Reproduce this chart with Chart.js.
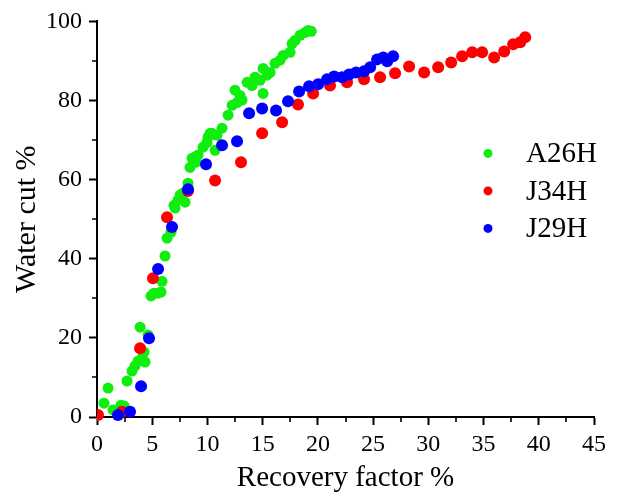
<!DOCTYPE html>
<html>
<head>
<meta charset="utf-8">
<script src="https://cdn.jsdelivr.net/npm/chart.js@4/dist/chart.umd.min.js"></script>
<style>
  html, body { margin: 0; padding: 0; background: #fff; }
  #wrap { width: 621px; height: 496px; }
</style>
</head>
<body>
<div id="wrap"><canvas id="c" width="621" height="496"></canvas></div>
<script>
// Recovery factor (%) vs water cut (%) for three wells
const seriesNames = ['A26H', 'J34H', 'J29H'];
const seriesColors = ['#10ee10', '#ff0000', '#0000ff'];

const a26h = [
  [0.63,3.5],[1.0,7.3],[1.45,1.8],[2.17,3.0],[2.45,2.8],[2.72,9.1],[3.17,11.6],[3.44,12.9],
  [3.71,14.1],[4.08,14.9],[3.9,22.7],[4.35,13.9],[4.26,16.4],[4.62,20.7],[4.89,30.6],
  [5.16,31.3],[5.53,31.3],[5.8,31.6],[5.89,34.3],[6.16,40.7],[6.34,45.2],[6.7,46.7],
  [6.97,53.5],[7.07,52.8],[7.34,54.8],[7.52,56.1],[7.79,56.6],[7.97,54.3],[8.24,59.1],
  [8.42,63.1],[8.6,65.4],[8.88,65.7],[8.97,64.4],[9.15,66.2],[9.6,68.2],[9.96,69.4],
  [10.05,70.7],[10.24,71.7],[10.42,71.7],[10.69,67.4],[10.87,71.2],[11.32,73.0],
  [11.87,76.3],[12.23,78.8],[12.5,82.6],[12.68,79.5],[12.95,81.3],[13.13,80.1],
  [13.59,84.6],[14.04,83.8],[14.31,85.9],[14.76,85.1],[15.04,81.8],[15.04,88.1],[15.4,86.4],
  [15.67,87.1],[16.12,89.4],[16.58,90.2],[16.85,91.4],[17.48,92.2],[17.66,94.4],
  [17.93,95.2],[18.39,96.5],[18.84,97.2],[19.11,97.7],[19.4,97.5]
];

const j34h = [
  [0.09,0.5],[2.26,1.3],[3.9,17.4],[5.07,35.1],[6.34,50.5],[8.24,57.1],[10.69,59.8],
  [13.04,64.4],[14.95,71.7],[16.76,74.5],[18.2,79.0],[19.57,81.8],[21.1,83.8],[22.64,84.6],
  [24.18,85.4],[25.63,85.9],[26.99,86.9],[28.26,88.6],[29.62,87.1],[30.89,88.4],
  [32.07,89.6],[33.06,91.2],[33.97,92.2],[34.87,92.2],[35.96,90.9],[36.87,92.4],
  [37.68,94.2],[38.32,94.7],[38.77,96.0]
];

const j29h = [
  [1.9,0.5],[2.99,1.3],[3.99,7.8],[4.71,19.9],[5.53,37.4],[6.79,48.0],[8.24,57.6],
  [9.87,63.9],[11.32,68.7],[12.68,69.7],[13.77,76.8],[14.95,78.0],[16.21,77.5],[17.3,79.8],
  [18.3,82.3],[19.2,83.6],[20.02,84.1],[20.83,85.4],[21.47,86.1],[22.19,85.9],[22.83,86.6],
  [23.46,87.1],[24.18,87.4],[24.73,88.4],[25.36,90.4],[25.91,90.9],[26.27,89.9],[26.81,91.2]
];

const xTitle = 'Recovery factor %';
const yTitle = 'Water cut %';
const xRange = [0, 45], xMajor = 5;
const yRange = [0, 100], yMajor = 20;

const FONT = "'Liberation Serif', 'Times New Roman', serif";
const toPoints = arr => arr.map(([x, y]) => ({ x, y }));

// minor tick marks halfway between the labelled ones
const minorTicks = {
  id: 'minorTicks',
  afterDraw(chart) {
    const { ctx, scales: { x, y } } = chart;
    ctx.save();
    ctx.strokeStyle = '#000';
    ctx.lineWidth = 1.6;
    ctx.beginPath();
    for (let v = xRange[0] + xMajor / 2; v < xRange[1]; v += xMajor) {
      const px = Math.round(x.getPixelForValue(v));
      ctx.moveTo(px, x.top);
      ctx.lineTo(px, x.top + 5);
    }
    for (let v = yRange[0] + yMajor / 2; v < yRange[1]; v += yMajor) {
      const py = Math.round(y.getPixelForValue(v));
      ctx.moveTo(y.right, py);
      ctx.lineTo(y.right - 5, py);
    }
    ctx.stroke();
    ctx.restore();
  }
};

// legend drawn inside the plot, right side
const insideLegend = {
  id: 'insideLegend',
  afterDraw(chart) {
    const { ctx, chartArea } = chart;
    ctx.save();
    ctx.font = '29px ' + FONT;
    ctx.textBaseline = 'middle';
    ctx.textAlign = 'left';
    chart.data.datasets.forEach((ds, i) => {
      const cy = chartArea.top + 132 + i * 37.5;
      const cx = chartArea.left + 391;
      ctx.fillStyle = ds.backgroundColor;
      ctx.beginPath();
      ctx.arc(cx, cy, 4.5, 0, Math.PI * 2);
      ctx.fill();
      ctx.fillStyle = '#000';
      ctx.fillText(ds.label, cx + 38, cy + 1);
    });
    ctx.restore();
  }
};

const seriesData = [a26h, j34h, j29h];
const seriesRadius = [5.5, 6, 6];

new Chart(document.getElementById('c'), {
  type: 'scatter',
  data: {
    datasets: seriesData.map((d, i) => ({
      label: seriesNames[i],
      data: toPoints(d),
      backgroundColor: seriesColors[i],
      borderWidth: 0,
      pointRadius: seriesRadius[i],
      pointHoverRadius: seriesRadius[i],
      order: 3 - i,
      clip: { left: 0, top: 10, right: 10, bottom: 10 }
    }))
  },
  options: {
    responsive: false,
    devicePixelRatio: 1,
    animation: false,
    layout: { padding: { left: 0, top: 21, right: 27, bottom: 0 } },
    plugins: { legend: { display: false }, tooltip: { enabled: false } },
    scales: {
      x: {
        type: 'linear',
        min: xRange[0], max: xRange[1],
        afterFit: s => { s.height = 79; },
        border: { display: true, color: '#000', width: 2 },
        grid: { drawOnChartArea: false, drawTicks: true, tickLength: 8, tickColor: '#000', tickWidth: 2 },
        ticks: { stepSize: xMajor, color: '#000', padding: 5, maxRotation: 0, font: { family: FONT, size: 24 } },
        title: { display: true, text: xTitle, color: '#000', padding: { top: 0, bottom: 0 }, font: { family: FONT, size: 29 } }
      },
      y: {
        type: 'linear',
        min: yRange[0], max: yRange[1],
        afterFit: s => { s.width = 97; },
        border: { display: true, color: '#000', width: 2 },
        grid: { drawOnChartArea: false, drawTicks: true, tickLength: 8, tickColor: '#000', tickWidth: 2 },
        ticks: { stepSize: yMajor, color: '#000', padding: 7, font: { family: FONT, size: 24 } },
        title: { display: true, text: yTitle, color: '#000', padding: { top: 9, bottom: 0 }, font: { family: FONT, size: 30 } }
      }
    }
  },
  plugins: [minorTicks, insideLegend]
});
</script>
</body>
</html>
